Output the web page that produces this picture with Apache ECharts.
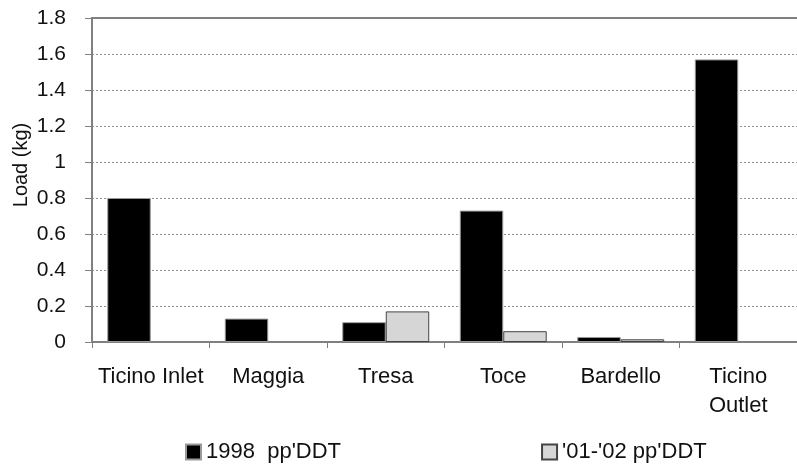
<!DOCTYPE html>
<html>
<head>
<meta charset="utf-8">
<script src="https://cdn.jsdelivr.net/npm/echarts@6/dist/echarts.min.js"></script>
<style>html,body{margin:0;padding:0;background:#fff;}#c{width:797px;height:468px;}</style>
</head>
<body>
<div id="c"></div>
<script>
var categories = ["Ticino Inlet", "Maggia", "Tresa", "Toce", "Bardello", "Ticino\nOutlet"];
var seriesNames = ["1998  pp'DDT", "'01-'02 pp'DDT"];
var load1998 = [0.80, 0.13, 0.11, 0.73, 0.028, 1.57];
var load0102 = [null, null, 0.17, 0.06, 0.015, null];
var yTicks = [0, 0.2, 0.4, 0.6, 0.8, 1, 1.2, 1.4, 1.6, 1.8];

var FONT = "'Liberation Sans', Arial, sans-serif";
var chart = echarts.init(document.getElementById('c'), null, {renderer: 'canvas'});
chart.setOption({
  animation: false,
  backgroundColor: '#ffffff',
  grid: {left: 92, top: 18, width: 714, height: 324, containLabel: false},
  legend: {
    data: seriesNames,
    left: 180, top: 436,
    itemWidth: 15, itemHeight: 15, itemGap: 200,
    icon: 'rect',
    textStyle: {fontFamily: FONT, fontSize: 22, color: '#111'}
  },
  graphic: [{
    type: 'text', rotation: Math.PI / 2, x: 21, y: 165,
    style: {text: 'Load (kg)', fontFamily: FONT, fontSize: 20, fill: '#111',
            textAlign: 'center', textVerticalAlign: 'middle'}
  }],
  xAxis: [{
    type: 'category', data: categories, position: 'bottom',
    axisLine: {show: true, lineStyle: {color: '#808080', width: 2}},
    axisTick: {show: true, length: 6, alignWithLabel: false, lineStyle: {color: '#808080'}},
    axisLabel: {margin: 20, fontFamily: FONT, fontSize: 22, color: '#111', lineHeight: 29, interval: 0}
  }, {
    type: 'category', data: categories, position: 'top',
    axisLine: {show: true, lineStyle: {color: '#808080', width: 2}},
    axisTick: {show: false}, axisLabel: {show: false}
  }],
  yAxis: {
    type: 'value', min: 0, max: 1.8, interval: 0.2,
    axisLine: {show: true, lineStyle: {color: '#808080', width: 2}},
    axisTick: {show: true, length: 7, lineStyle: {color: '#808080'}},
    axisLabel: {margin: 26, fontFamily: FONT, fontSize: 21, color: '#111',
      formatter: function (v) { var t = yTicks.filter(function (x) { return Math.abs(x - v) < 1e-9; }); return t.length ? String(t[0]) : ''; }},
    splitLine: {show: true, lineStyle: {color: '#909090', type: [2, 2], width: 1}}
  },
  series: [{
    name: seriesNames[0], type: 'bar', data: load1998, xAxisIndex: 0,
    barGap: '0%', barCategoryGap: '26%',
    itemStyle: {color: '#000000', borderColor: '#9a9a9a', borderWidth: 1}
  }, {
    name: seriesNames[1], type: 'bar', data: load0102, xAxisIndex: 0,
    barGap: '0%', barCategoryGap: '26%',
    itemStyle: {color: '#d6d6d6', borderColor: '#444444', borderWidth: 1}
  }]
});
</script>
</body>
</html>
